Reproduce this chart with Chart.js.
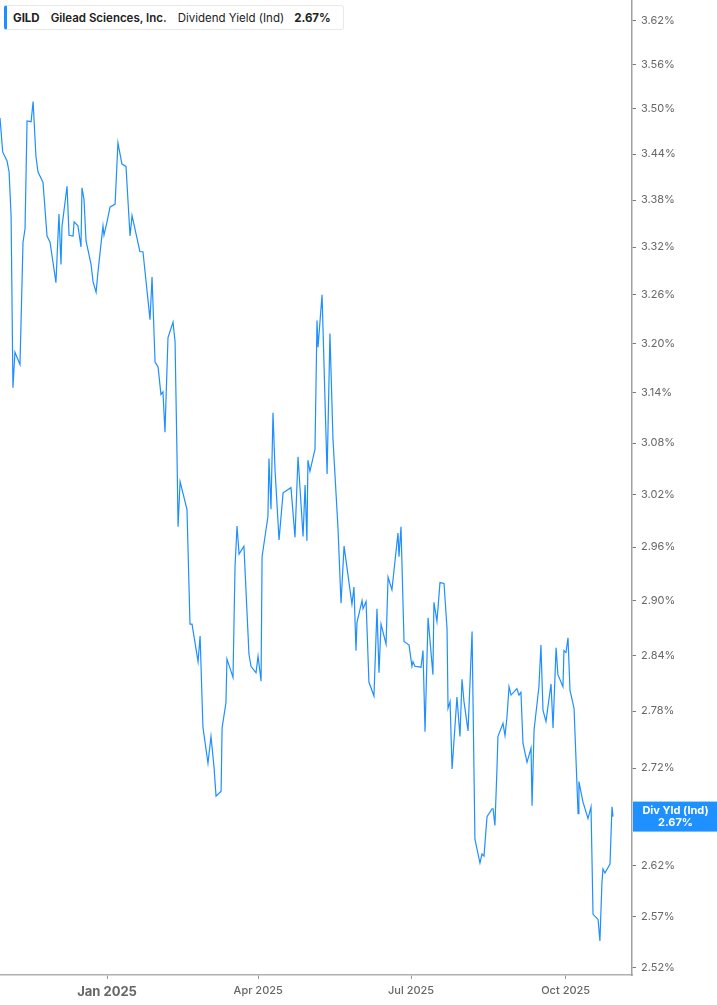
<!DOCTYPE html>
<html>
<head>
<meta charset="utf-8">
<script src="https://cdn.jsdelivr.net/npm/chart.js@4.4.1/dist/chart.umd.min.js"></script>
<style>
  body { margin: 0; background: #fff; font-family: Inter, "Noto Sans", sans-serif; }
  #wrap { position: relative; width: 717px; height: 1005px; }
  #legend {
    position: absolute; left: 4px; top: 5px; height: 25px; width: 340px;
    background: #fff; border: 1px solid #e8e8e8; border-left: 3px solid #1e8fff;
    border-radius: 3px; box-sizing: border-box; font-size: 11.5px; color: #222;
    display: flex; align-items: center; white-space: nowrap;
  }
  #legend span { display: inline-block; }
</style>
</head>
<body>
<div id="wrap">
  <canvas id="chart" width="717" height="1005"></canvas>
  <div id="legend">
    <span style="font-weight:700; margin-left:6px;">GILD</span>
    <span style="font-weight:600; margin-left:11px;">Gilead Sciences, Inc.</span>
    <span style="font-weight:400; margin-left:11px;">Dividend Yield (Ind)</span>
    <span style="font-weight:700; margin-left:10px;">2.67%</span>
  </div>
</div>
<script>
// Days counted from 2025-01-01 (negative = late 2024)
const days = [
  -63.7, -62.1, -59.5, -58.3, -57.1, -56.0, -54.8, -51.8, -50.0, -48.8,
  -47.6, -45.2, -44.0, -42.3, -41.1, -38.1, -35.7, -33.9, -30.4, -28.6,
  -27.4, -26.8, -23.8, -22.6, -20.2, -19.6, -17.3, -15.5, -14.9, -13.7,
  -12.5, -9.5, -8.3, -6.5, -5.4, -2.4, -1.8, 0, 1.8, 4.8,
  6.5, 8.9, 11.3, 13.7, 14.9, 19.6, 21.4, 25.6, 26.8, 28.6,
  30.4, 32.1, 33.3, 34.5, 36.3, 39.3, 40.5, 41.7, 42.3, 43.5,
  47.6, 49.4, 50.6, 54.2, 55.4, 57.1, 60.1, 61.9, 63.7, 64.9,
  67.9, 68.5, 70.8, 71.4, 75.0, 76.2, 77.4, 78.6, 81.5, 84.5,
  85.7, 88.7, 89.9, 91.7, 92.3, 95.8, 96.4, 97.6, 98.8, 100.0,
  102.4, 104.8, 109.5, 111.9, 113.7, 116.7, 117.9, 119.0, 119.6, 120.8,
  123.8, 125.0, 125.6, 128.0, 131.0, 132.7, 134.5, 137.5, 139.3, 141.1,
  145.8, 147.0, 148.2, 148.8, 151.8, 152.4, 154.2, 155.9, 158.9, 160.7,
  161.9, 163.1, 166.1, 167.3, 169.6, 173.2, 173.8, 175.0, 176.8, 179.8,
  181.5, 182.1, 183.3, 186.9, 188.1, 189.3, 191.1, 194.0, 194.6, 196.4,
  198.2, 200.6, 202.4, 203.0, 204.2, 205.4, 208.3, 210.1, 211.3, 212.5,
  214.9, 217.3, 217.8, 219.0, 222.0, 223.2, 224.4, 226.2, 229.2, 229.8,
  230.9, 232.1, 232.7, 235.7, 236.9, 238.1, 239.3, 240.5, 244.0, 245.2,
  246.4, 247.6, 250.0, 252.4, 253.0, 254.2, 257.1, 258.3, 259.5, 261.3,
  264.3, 265.5, 267.3, 268.4, 271.4, 272.0, 273.2, 274.4, 275.6, 278.0,
  280.4, 280.9, 283.3, 286.3, 288.1, 289.3, 292.3, 293.4, 294.6, 295.2,
  296.4, 299.4, 300.6, 301.2
];

// Dividend yield, %
const yields = [
  3.488, 3.443, 3.431, 3.417, 3.360, 3.146, 3.189, 3.174, 3.326, 3.343,
  3.484, 3.483, 3.510, 3.437, 3.417, 3.403, 3.334, 3.326, 3.275, 3.362,
  3.298, 3.346, 3.398, 3.335, 3.334, 3.352, 3.347, 3.320, 3.396, 3.381,
  3.328, 3.298, 3.276, 3.263, 3.288, 3.347, 3.335, 3.352, 3.371, 3.375,
  3.455, 3.427, 3.424, 3.334, 3.360, 3.314, 3.314, 3.229, 3.282, 3.177,
  3.171, 3.138, 3.141, 3.093, 3.207, 3.226, 3.202, 3.061, 2.983, 3.035,
  3.003, 2.874, 2.874, 2.833, 2.861, 2.763, 2.725, 2.753, 2.721, 2.691,
  2.696, 2.762, 2.789, 2.836, 2.816, 2.938, 2.984, 2.952, 2.961, 2.841,
  2.828, 2.821, 2.839, 2.812, 2.949, 2.995, 3.062, 3.003, 3.116, 3.049,
  2.968, 3.022, 3.028, 2.971, 3.064, 2.972, 3.031, 2.967, 3.060, 3.047,
  3.073, 3.228, 3.195, 3.260, 3.044, 3.212, 3.085, 2.981, 2.897, 2.961,
  2.896, 2.915, 2.845, 2.876, 2.900, 2.891, 2.899, 2.811, 2.796, 2.891,
  2.821, 2.874, 2.852, 2.926, 2.912, 2.976, 2.949, 2.983, 2.855, 2.851,
  2.828, 2.833, 2.828, 2.827, 2.845, 2.758, 2.881, 2.819, 2.898, 2.877,
  2.920, 2.919, 2.869, 2.783, 2.790, 2.719, 2.795, 2.753, 2.814, 2.790,
  2.759, 2.866, 2.866, 2.647, 2.623, 2.632, 2.630, 2.670, 2.678, 2.678,
  2.661, 2.718, 2.753, 2.767, 2.754, 2.774, 2.806, 2.797, 2.804, 2.797,
  2.800, 2.746, 2.726, 2.741, 2.681, 2.760, 2.806, 2.851, 2.781, 2.769,
  2.809, 2.762, 2.848, 2.819, 2.806, 2.845, 2.843, 2.859, 2.802, 2.783,
  2.673, 2.706, 2.685, 2.668, 2.680, 2.572, 2.567, 2.546, 2.603, 2.617,
  2.613, 2.622, 2.680, 2.670
];

// Axis ticks
const xTickDays = [0, 90, 181, 273];
const xTickLabels = ['Jan 2025', 'Apr 2025', 'Jul 2025', 'Oct 2025'];
const yTickValues = [3.62, 3.56, 3.50, 3.44, 3.38, 3.32, 3.26, 3.20, 3.14, 3.08,
  3.02, 2.96, 2.90, 2.84, 2.78, 2.72, 2.62, 2.57, 2.52];

const LINE_BLUE = '#1e8fff';
const BADGE_BLUE = '#1e90ff';
const lastValue = yields[yields.length - 1];

// current value badge on the right axis
const badgePlugin = {
  id: 'badge',
  afterDraw(chart) {
    const { ctx, chartArea, scales } = chart;
    const y = scales.y.getPixelForValue(lastValue);
    ctx.save();
    ctx.fillStyle = BADGE_BLUE;
    ctx.fillRect(chartArea.right + 1, y - 15, chart.width - chartArea.right - 1, 30);
    ctx.fillStyle = '#fff';
    ctx.font = '700 11px Inter, "Noto Sans", sans-serif';
    ctx.textAlign = 'center';
    ctx.textBaseline = 'middle';
    const cx = (chartArea.right + chart.width) / 2 + 1;
    ctx.fillText('Div Yld (Ind)', cx, y - 6);
    ctx.fillText(lastValue.toFixed(2) + '%', cx, y + 6);
    ctx.restore();
  }
};

const bgPlugin = {
  id: 'bg',
  beforeDraw(chart) {
    const ctx = chart.ctx;
    ctx.save();
    ctx.fillStyle = '#fff';
    ctx.fillRect(0, 0, chart.width, chart.height);
    ctx.restore();
  }
};

new Chart(document.getElementById('chart'), {
  type: 'line',
  data: {
    datasets: [{
      data: days.map((d, i) => ({ x: d, y: yields[i] })),
      borderColor: LINE_BLUE,
      borderWidth: 1.2,
      pointRadius: 0,
      tension: 0,
      fill: false
    }]
  },
  options: {
    responsive: false,
    animation: false,
    layout: { padding: 0 },
    plugins: {
      legend: { display: false },
      tooltip: { enabled: false }
    },
    scales: {
      x: {
        type: 'linear',
        min: -63.7,
        max: 312.5,
        afterBuildTicks(scale) {
          scale.ticks = xTickDays.map(v => ({ value: v }));
        },
        afterFit(scale) {
          scale.height = 30;
          scale.paddingLeft = 0;
          scale.paddingRight = 0;
        },
        border: { display: true, color: '#b0b0b0', width: 1.5 },
        grid: { drawOnChartArea: false, drawTicks: true, tickLength: 4, tickColor: '#999' },
        ticks: {
          autoSkip: false,
          maxRotation: 0,
          padding: 5,
          color: '#666',
          font: (c) => c.tick && c.tick.value === 0
            ? { family: 'Inter', size: 13, weight: '700' }
            : { family: 'Inter', size: 11, weight: '500' },
          callback: (v) => xTickLabels[xTickDays.indexOf(v)]
        }
      },
      y: {
        type: 'logarithmic',
        position: 'right',
        min: 2.513,
        max: 3.649,
        afterBuildTicks(scale) {
          scale.ticks = yTickValues.map(v => ({ value: v }));
        },
        afterFit(scale) {
          scale.width = 85;
          scale.paddingTop = 0;
          scale.paddingBottom = 0;
        },
        border: { display: true, color: '#a0a0a0', width: 1.5 },
        grid: { drawOnChartArea: false, drawTicks: true, tickLength: 4, tickColor: '#777' },
        ticks: {
          autoSkip: false,
          padding: 5,
          color: '#666',
          font: { family: 'Inter', size: 11 },
          callback: (v) => Number(v).toFixed(2) + '%'
        }
      }
    }
  },
  plugins: [bgPlugin, badgePlugin]
});
</script>
</body>
</html>
